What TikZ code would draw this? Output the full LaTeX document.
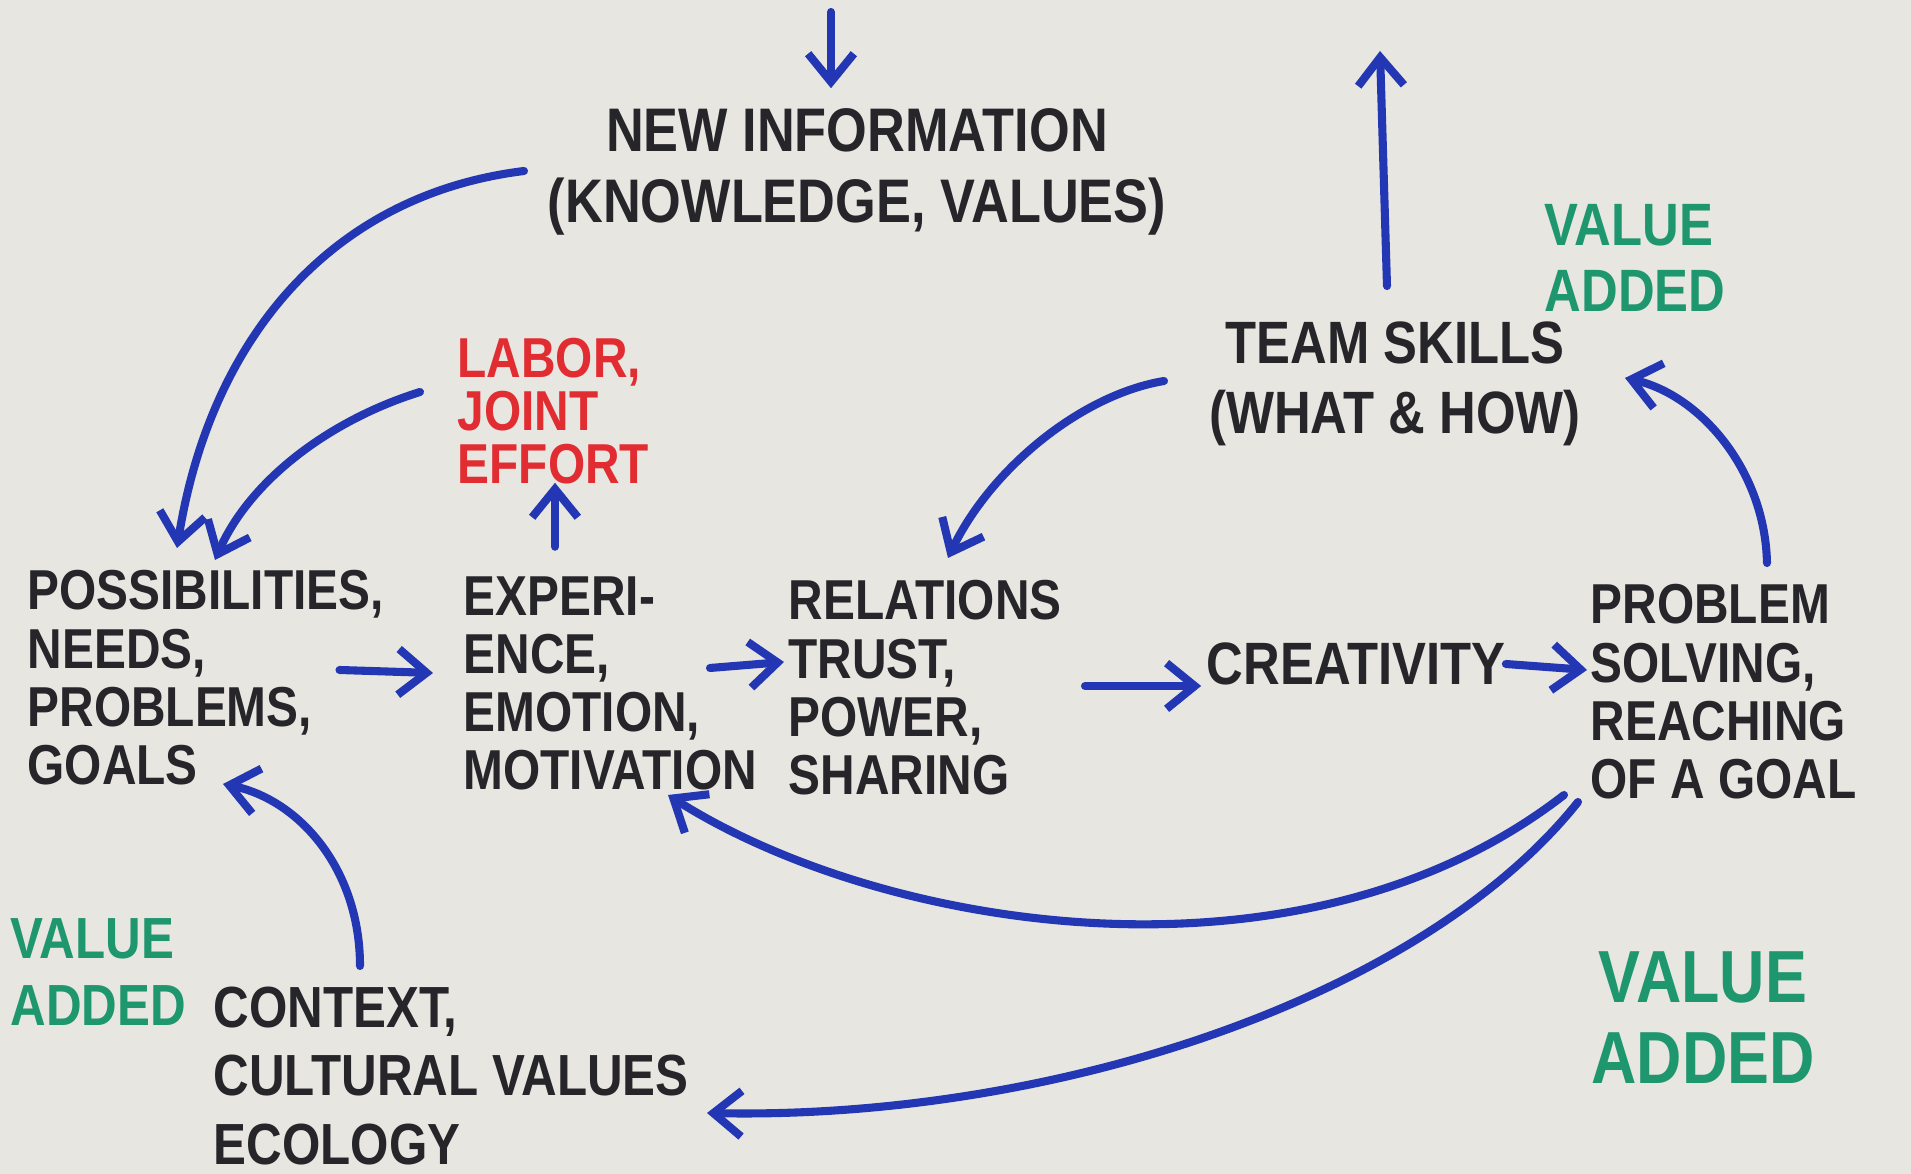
\documentclass[tikz,border=0pt]{standalone}
\usepackage{fontspec}
\setmainfont{Liberation Sans}[FakeStretch=0.85]
\usepackage{tikz}
\usetikzlibrary{arrows.meta,calc}
\definecolor{paper}{RGB}{231,230,225}
\definecolor{ink}{RGB}{38,38,42}
\definecolor{pen}{RGB}{35,55,180}
\definecolor{redpen}{RGB}{225,45,50}
\definecolor{greenpen}{RGB}{30,150,110}

\begin{document}
\begin{tikzpicture}[x=0.01cm, y=-0.01cm, >={Straight Barb[length=8pt,width=13pt]},
    every node/.style={inner sep=0pt, align=left, text=ink, font=\fontsize{16}{16.5}\selectfont\bfseries},
    flow/.style={->, draw=pen, line width=2.3pt, line cap=round, line join=round},
    added/.style={text=greenpen, align=left}]
    \fill[paper] (0,0) rectangle (1911,1174);
    \useasboundingbox (0,0) rectangle (1911,1174);

    \node[align=center, font=\fontsize{17.5}{20}\selectfont\bfseries] (info) at (857,172) {NEW INFORMATION\\(KNOWLEDGE, VALUES)};
    \node[align=center, font=\fontsize{17}{20}\selectfont\bfseries] (team) at (1395,384) {TEAM SKILLS\\(WHAT \& HOW)};
    \node[text=redpen, anchor=north west, font=\fontsize{16}{15}\selectfont\bfseries] (labor) at (457,338) {LABOR,\\JOINT\\EFFORT};
    \node[anchor=north west] (poss) at (27,570) {POSSIBILITIES,\\NEEDS,\\PROBLEMS,\\GOALS};
    \node[anchor=north west] (exper) at (463,576) {EXPERI-\\ENCE,\\EMOTION,\\MOTIVATION};
    \node[anchor=north west] (rel) at (788,580) {RELATIONS\\TRUST,\\POWER,\\SHARING};
    \node[font=\fontsize{17}{20}\selectfont\bfseries] (creat) at (1356,664) {CREATIVITY};
    \node[anchor=north west] (prob) at (1590,584) {PROBLEM\\SOLVING,\\REACHING\\OF A GOAL};
    \node[anchor=north west, font=\fontsize{16.5}{19.5}\selectfont\bfseries] (ctx) at (213,986) {CONTEXT,\\CULTURAL VALUES\\ECOLOGY};
    \node[added, font=\fontsize{17}{19}\selectfont\bfseries] (va1) at (1635,258) {VALUE\\ADDED};
    \node[added, anchor=north west, font=\fontsize{16.5}{19}\selectfont\bfseries] (va2) at (10,918) {VALUE\\ADDED};
    \node[added, align=center, font=\fontsize{21}{23}\selectfont\bfseries] (va3) at (1703,1018) {VALUE\\ADDED};

    \coordinate (inflow) at (831,12);
    \coordinate (outflow) at (1380,51);

    \draw[flow] (inflow) -- ($(inflow |- info.north)+(0,-20)$);
    \draw[flow] ($(team.north)+(-8,-35)$) -- (outflow);
    \draw[flow] ($(labor.south west)+(98,62)$) -- ($(labor.south west)+(98,-2)$);

    \draw[flow] (524,171) .. controls (330,195) and (210,340) .. (177,548);
    \draw[flow] (420,392) .. controls (330,420) and (250,480) .. (215,560);
    \draw[flow] ($(poss.east |- 0,670)+(-45,0)$) -- (433,673);
    \draw[flow] (710,668) -- (784,662);
    \draw[flow] (1085,686) -- ($(creat.west |- 0,686)+(-5,0)$);
    \draw[flow] (creat.east) -- (1587,670);
    \draw[flow] (1164,381) .. controls (1080,395) and (990,470) .. (948,558);
    \draw[flow] (1767,563) .. controls (1765,470) and (1700,395) .. (1625,378);
    \draw[flow] (1564,795) .. controls (1300,1000) and (880,930) .. (668,795);
    \draw[flow] (1578,802) .. controls (1420,1000) and (1050,1120) .. (707,1113);
    \draw[flow] (360,966) .. controls (360,870) and (300,800) .. (223,784);
\end{tikzpicture}
\end{document}
